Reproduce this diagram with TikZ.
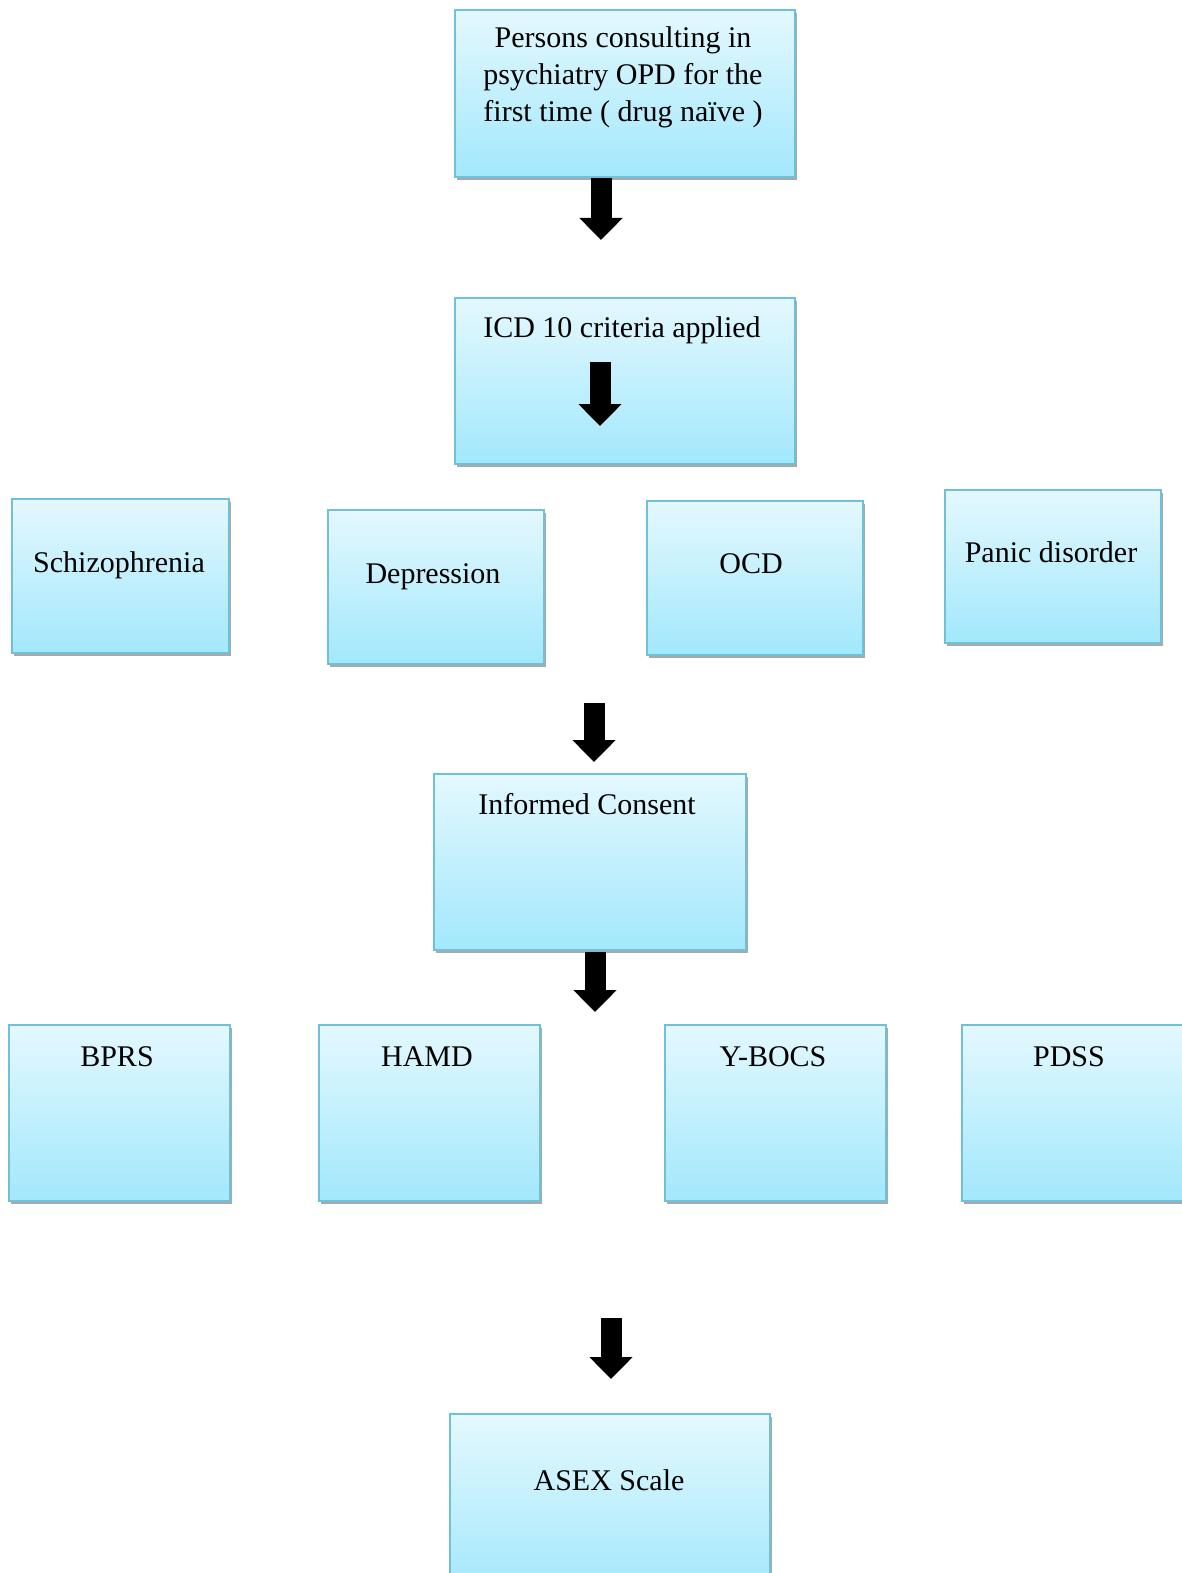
\documentclass[tikz,border=0pt]{standalone}
\usepackage{fontspec}
\setmainfont{Liberation Serif}
\usetikzlibrary{arrows.meta,shadows}

\definecolor{boxtop}{HTML}{E4F8FE}
\definecolor{boxbot}{HTML}{A2E8FC}
\definecolor{boxline}{HTML}{70C0D8}

\begin{document}
\begin{tikzpicture}[x=0.5pt,y=-0.5pt,
    box/.style={draw=boxline, line width=0.9pt, top color=boxtop, bottom color=boxbot,
      anchor=north west, inner sep=0pt,
      drop shadow={shadow xshift=1pt, shadow yshift=-1.6pt, fill=black!45, opacity=0.75}},
    txt/.style={font=\fontsize{15}{18.5}\selectfont, inner sep=0pt, align=center, anchor=base},
    bigarrow/.style={line width=10.5pt, -{Triangle[width=21pt,length=11pt]}}]
    \useasboundingbox (0,0) rectangle (1182,1573);
    \clip (0,0) rectangle (1182,1573);
    \node [box, minimum width=170pt, minimum height=83.5pt] (first) at (454,9) {};
    \node [txt] (first-t) at (623,122) {Persons consulting in\\psychiatry OPD for the\\first time ( drug naïve )};
    \node [box, minimum width=170pt, minimum height=83pt] (icd) at (454,297) {};
    \node [txt] (icd-t) at (622,337) {ICD 10 criteria applied};
    \node [box, minimum width=108.5pt, minimum height=77pt] (schiz) at (11,498) {};
    \node [txt] (schiz-t) at (119,572) {Schizophrenia};
    \node [box, minimum width=108pt, minimum height=77pt] (dep) at (327,509) {};
    \node [txt] (dep-t) at (433,583) {Depression};
    \node [box, minimum width=108pt, minimum height=77pt] (ocd) at (646,500) {};
    \node [txt] (ocd-t) at (751,573) {OCD};
    \node [box, minimum width=108pt, minimum height=76.5pt] (panic) at (944,489) {};
    \node [txt] (panic-t) at (1051,562) {Panic disorder};
    \node [box, minimum width=156pt, minimum height=88pt] (consent) at (433,773) {};
    \node [txt] (consent-t) at (587,814) {Informed Consent};
    \node [box, minimum width=110.5pt, minimum height=88pt] (bprs) at (8,1024) {};
    \node [txt] (bprs-t) at (117,1066) {BPRS};
    \node [box, minimum width=110.5pt, minimum height=88pt] (hamd) at (318,1024) {};
    \node [txt] (hamd-t) at (427,1066) {HAMD};
    \node [box, minimum width=110.5pt, minimum height=88pt] (ybocs) at (664,1024) {};
    \node [txt] (ybocs-t) at (773,1066) {Y-BOCS};
    \node [box, minimum width=115pt, minimum height=88pt] (pdss) at (961,1024) {};
    \node [txt] (pdss-t) at (1069,1066) {PDSS};
    \node [box, minimum width=160pt, minimum height=90pt] (asex) at (449,1413) {};
    \node [txt] (asex-t) at (609,1490) {ASEX Scale};
    \coordinate (a1) at (601,240);
    \coordinate (a2s) at (600,362);
    \coordinate (a2) at (600,426);
    \coordinate (a3s) at (594,703);
    \coordinate (a3) at (594,762);
    \coordinate (a4s) at (595,952);
    \coordinate (a4) at (595,1012);
    \coordinate (a5s) at (611,1318);
    \coordinate (a5) at (611,1379);
    \draw [bigarrow] (first.south -| a1) -- (a1);
    \draw [bigarrow] (a2s) -- (a2);
    \draw [bigarrow] (a3s) -- (a3);
    \draw [bigarrow] (a4s) -- (a4);
    \draw [bigarrow] (a5s) -- (a5);
\end{tikzpicture}
\end{document}
